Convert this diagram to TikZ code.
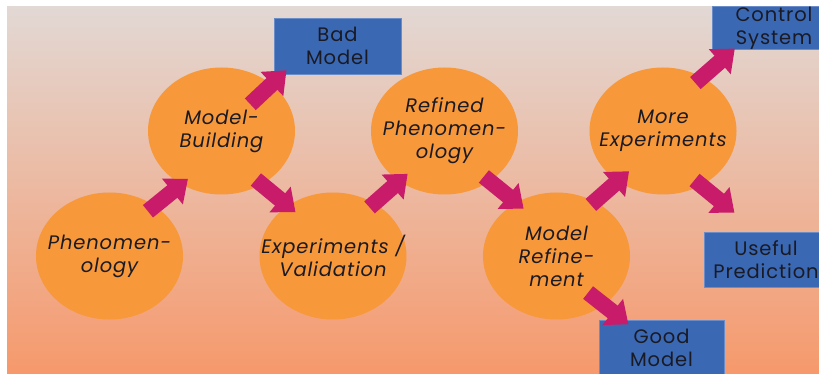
\documentclass[tikz,border=0pt]{standalone}
\usepackage{fontspec}
\usepackage{xcolor}
\usepackage{tikz}
\usetikzlibrary{shapes.geometric,arrows.meta}
\setmainfont{Poppins}[LetterSpace=4.5]
\definecolor{bgTop}{HTML}{E2D8D4}
\definecolor{bgBottom}{HTML}{F6996C}
\definecolor{blobOrange}{HTML}{F7983A}
\definecolor{boxBlue}{HTML}{3A68B2}
\definecolor{boxLine}{HTML}{6A8CC8}
\definecolor{flowMagenta}{HTML}{C81C6A}
\definecolor{inkDark}{HTML}{1A1A24}
\tikzset{
  txt/.style={font=\fontsize{19.5}{23}\selectfont, text=inkDark, align=center},
  itxt/.style={txt, font=\itshape\fontsize{19.5}{23}\selectfont},
}
\begin{document}
\begin{tikzpicture}[x=1pt, y=-1pt,
  blob/.style={ellipse, fill=blobOrange, minimum width=147pt, minimum height=127pt,
               inner sep=0pt, outer sep=0pt},
  outcome/.style={draw=boxLine, line width=0.8pt, fill=boxBlue, inner sep=0pt, outer sep=0pt, txt},
  flow/.style={draw=flowMagenta, line width=16pt, -{Triangle[length=20pt, width=32pt]}}]
  \useasboundingbox (0,0) rectangle (819,374);
  \shade[top color=bgTop, bottom color=bgBottom] (7,7) rectangle (819,373);
  \node[blob, label={[itxt]center:{Phenomen-\\ology}}]          (phen)  at (109.5,256) {};
  \node[blob, label={[itxt]center:{Model-\\Building}}]          (build) at (221.5,131) {};
  \node[blob, label={[itxt]center:{Experiments /\\Validation}}] (exper) at (333,256)   {};
  \node[blob, label={[itxt]center:{Refined\\Phenomen-\\ology}}] (refin) at (444.5,131) {};
  \node[blob, label={[itxt]center:{Model\\Refine-\\ment}}]      (mref)  at (556.5,256) {};
  \node[blob, label={[itxt]center:{More\\Experiments}}]         (more)  at (663,131)   {};
  \begin{scope}
    \clip (0,0) rectangle (819,374);
    \node[outcome, minimum width=127pt, minimum height=56pt] (bad)    at (337.5,46)  {Bad\\Model};
    \node[outcome, minimum width=124pt, minimum height=42pt] (ctrl)   at (774,28)    {Control\\System};
    \node[outcome, minimum width=124pt, minimum height=55pt] (useful) at (766,259.5) {Useful\\Prediction};
    \node[outcome, minimum width=125pt, minimum height=56pt] (good)   at (661.5,348) {Good\\Model};
  \end{scope}
  % arrows
  \draw[flow, shorten <=-8.6pt, shorten >=-8.4pt] (phen.48)   -- (build.233);
  \draw[flow, shorten <=-29pt, shorten >=-5.4pt]  (build.43)  -- (bad.207.5);
  \draw[flow, shorten <=-7.4pt, shorten >=-9.9pt] (build.307) -- (exper.132.4);
  \draw[flow, shorten <=-6.1pt, shorten >=-11pt]  (exper.52)  -- (refin.228.6);
  \draw[flow, shorten <=-7.4pt, shorten >=-9.3pt] (refin.312) -- (mref.127.5);
  \draw[flow, shorten <=-4.9pt, shorten >=-14.9pt] (mref.55)  -- (more.228.5);
  \draw[flow, shorten <=-8.9pt, shorten >=-1pt]   (more.54.8) -- (ctrl.208);
  \draw[flow, shorten <=-8.4pt, shorten >=30.6pt] (more.305.8) -- (useful.106);
  \draw[flow, shorten <=-19.7pt, shorten >=-7pt]  (mref.314.5) -- (good.144.3);
\end{tikzpicture}
\end{document}
